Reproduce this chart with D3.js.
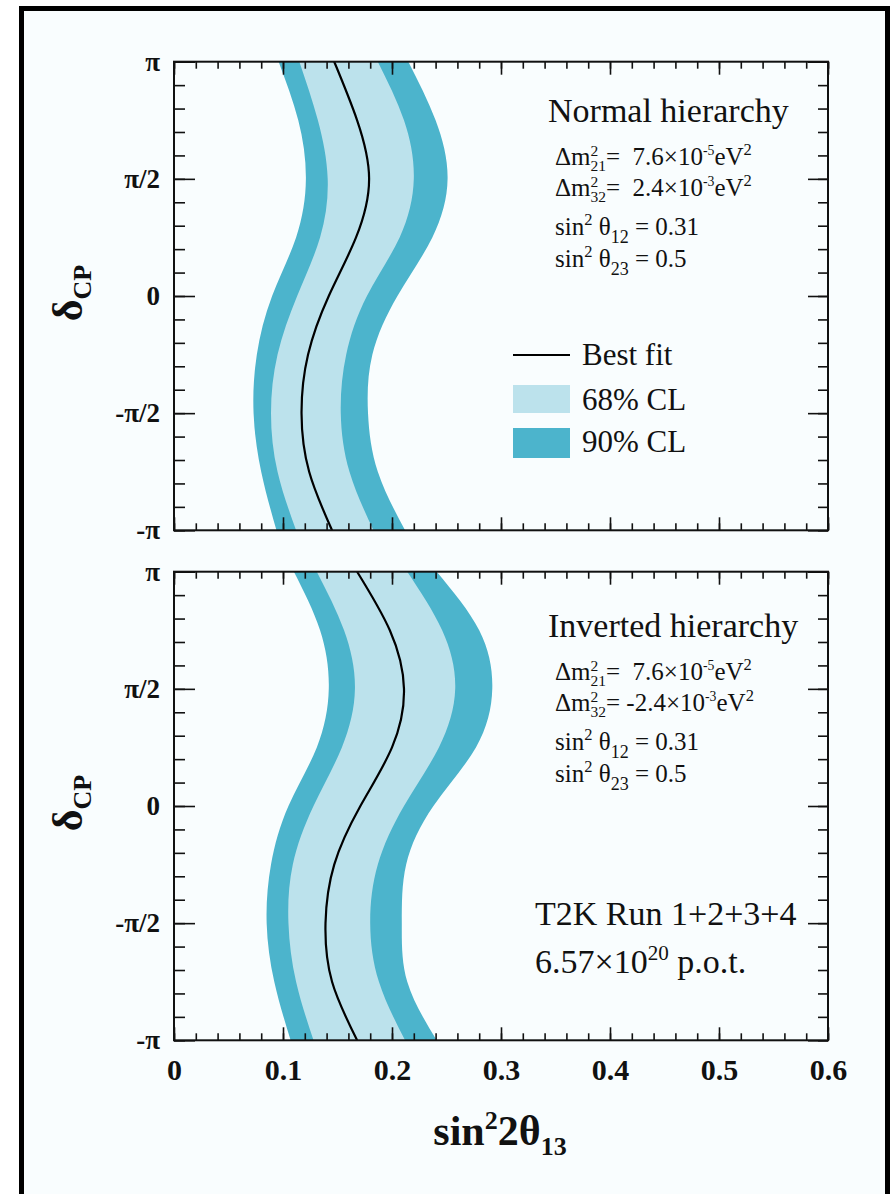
<!DOCTYPE html>
<html>
<head>
<meta charset="utf-8">
<script src="https://cdn.jsdelivr.net/npm/d3@7"></script>
<style>
  body { margin: 0; background: #fff; }
  text { font-family: "Liberation Serif", "DejaVu Serif", serif; fill: #111; white-space: pre; }
  .tick text { font-weight: bold; }
</style>
</head>
<body>
<svg id="chart" width="892" height="1194"></svg>
<script>
  // delta_CP grid in units of pi, from +pi down to -pi
  var deltaFrac = [1, 0.75, 0.5, 0.25, 0, -0.25, -0.5, -0.75, -1];

  // normal hierarchy: sin^2 2theta13 contour edges
  var nh90Lo = [0.096, 0.114, 0.121, 0.112, 0.090, 0.076, 0.073, 0.080, 0.094];
  var nh68Lo = [0.115, 0.132, 0.141, 0.134, 0.113, 0.095, 0.089, 0.095, 0.112];
  var nhBest = [0.147, 0.168, 0.179, 0.167, 0.142, 0.123, 0.117, 0.124, 0.145];
  var nh68Hi = [0.187, 0.211, 0.220, 0.207, 0.177, 0.158, 0.153, 0.161, 0.183];
  var nh90Hi = [0.215, 0.240, 0.251, 0.237, 0.205, 0.182, 0.178, 0.187, 0.212];

  // inverted hierarchy
  var ih90Lo = [0.110, 0.134, 0.142, 0.131, 0.105, 0.089, 0.085, 0.092, 0.107];
  var ih68Lo = [0.131, 0.156, 0.166, 0.154, 0.128, 0.109, 0.105, 0.112, 0.128];
  var ihBest = [0.168, 0.198, 0.211, 0.200, 0.171, 0.147, 0.139, 0.145, 0.168];
  var ih68Hi = [0.214, 0.246, 0.258, 0.243, 0.211, 0.187, 0.180, 0.188, 0.212];
  var ih90Hi = [0.241, 0.280, 0.292, 0.277, 0.238, 0.213, 0.209, 0.214, 0.241];

  var xTicks = [0, 0.1, 0.2, 0.3, 0.4, 0.5, 0.6];
  var xTickLabels = ['0', '0.1', '0.2', '0.3', '0.4', '0.5', '0.6'];
  var yTickFrac = [-1, -0.5, 0, 0.5, 1];
  var yTickLabels = ['-\u03c0', '-\u03c0/2', '0', '\u03c0/2', '\u03c0'];

  var dark = '#4cb4cc';
  var light = '#bce2ec';

  var svg = d3.select('#chart');

  // outer frame
  svg.append('rect')
    .attr('x', 21.5).attr('y', 8.5)
    .attr('width', 866).attr('height', 1200)
    .attr('fill', '#f9fdfe')
    .attr('stroke', '#000')
    .attr('stroke-width', 5);

  var x = d3.scaleLinear().domain([0, 0.6]).range([174, 828]);

  function rich(sel, px, py, size, parts) {
    var t = sel.append('text').attr('x', px).attr('y', py).attr('font-size', size);
    var cur = 0;
    parts.forEach(function(p) {
      var off = p[1] || 0, sc = p[2] || 1, dx = p[3] || 0;
      t.append('tspan')
        .attr('dy', off - cur)
        .attr('dx', dx)
        .attr('font-size', size * sc)
        .text(p[0]);
      cur = off;
    });
    return t;
  }

  function drawPanel(panel, idx) {
    var y = d3.scaleLinear().domain([-Math.PI, Math.PI]).range([panel.bottom, panel.top]);
    var g = svg.append('g');

    var clipId = 'clip-' + idx;
    g.append('clipPath').attr('id', clipId)
      .append('rect')
      .attr('x', x(0)).attr('y', panel.top)
      .attr('width', x(0.6) - x(0)).attr('height', panel.bottom - panel.top);

    var rows = deltaFrac.map(function(f, i) {
      return {
        d: f * Math.PI,
        o0: panel.o90[i], o1: panel.o90hi[i],
        i0: panel.i68[i], i1: panel.i68hi[i],
        best: panel.best[i]
      };
    });

    var curve = d3.curveNatural;
    var plot = g.append('g').attr('clip-path', 'url(#' + clipId + ')');

    plot.append('path')
      .datum(rows)
      .attr('fill', dark)
      .attr('d', d3.area().curve(curve)
        .y(function(d) { return y(d.d); })
        .x0(function(d) { return x(d.o0); })
        .x1(function(d) { return x(d.o1); }));

    plot.append('path')
      .datum(rows)
      .attr('fill', light)
      .attr('d', d3.area().curve(curve)
        .y(function(d) { return y(d.d); })
        .x0(function(d) { return x(d.i0); })
        .x1(function(d) { return x(d.i1); }));

    plot.append('path')
      .datum(rows)
      .attr('fill', 'none')
      .attr('stroke', '#000')
      .attr('stroke-width', 2.2)
      .attr('d', d3.line().curve(curve)
        .y(function(d) { return y(d.d); })
        .x(function(d) { return x(d.best); }));

    // axes
    var xMinor = d3.range(0, 31).map(function(k) { return k * 0.02; });
    var yMinor = d3.range(-10, 11).map(function(k) { return k * Math.PI / 10; });
    var yMajor = yTickFrac.map(function(f) { return f * Math.PI; });

    function addAxis(axis, tx, ty) {
      var a = g.append('g')
        .attr('transform', 'translate(' + tx + ',' + ty + ')')
        .call(axis);
      a.select('.domain').remove();
      a.selectAll('line').attr('stroke', '#111').attr('stroke-width', 1.6);
      return a;
    }

    addAxis(d3.axisBottom(x).tickValues(xMinor).tickSize(-7).tickFormat(''), 0, panel.bottom);
    addAxis(d3.axisTop(x).tickValues(xMinor).tickSize(-7).tickFormat(''), 0, panel.top);
    addAxis(d3.axisTop(x).tickValues(xTicks).tickSize(-13).tickFormat(''), 0, panel.top);

    var xa = addAxis(d3.axisBottom(x).tickValues(xTicks).tickSize(-13).tickPadding(18)
      .tickFormat(function(d, i) { return panel.xLabels ? xTickLabels[i] : ''; }), 0, panel.bottom);
    xa.selectAll('text').attr('font-size', 30).attr('fill', '#111')
      .style('font-family', '"Liberation Serif", serif');

    addAxis(d3.axisLeft(y).tickValues(yMinor).tickSize(-11).tickFormat(''), x(0), 0);
    addAxis(d3.axisRight(y).tickValues(yMinor).tickSize(-10).tickFormat(''), x(0.6), 0);
    addAxis(d3.axisRight(y).tickValues(yMajor).tickSize(-20).tickFormat(''), x(0.6), 0);
    var ya = addAxis(d3.axisLeft(y).tickValues(yMajor).tickSize(-21).tickPadding(14)
      .tickFormat(function(d, i) { return yTickLabels[i]; }), x(0), 0);
    ya.selectAll('text').attr('font-size', 27).attr('fill', '#111')
      .style('font-family', '"Liberation Serif", serif');

    // frame
    g.append('rect')
      .attr('x', x(0)).attr('y', panel.top)
      .attr('width', x(0.6) - x(0)).attr('height', panel.bottom - panel.top)
      .attr('fill', 'none').attr('stroke', '#111').attr('stroke-width', 2);

    // y label
    var yl = g.append('g')
      .attr('transform', 'translate(82,' + ((panel.top + panel.bottom) / 2 - 3) + ') rotate(-90)');
    rich(yl, 0, 0, 42, [['\u03b4'], ['CP', 9, 0.62]])
      .attr('text-anchor', 'middle').attr('font-weight', 'bold');

    // annotations
    var b = panel.textTop;
    g.append('text').attr('x', 548).attr('y', b).attr('font-size', 34).text(panel.title);
    rich(g, 555, b + 43, 25, [['\u0394m'], ['2', -9, 0.62], ['21', 6, 0.62, -7.8],
      ['=  7.6\u00d710', 0], ['-5', -10, 0.55], ['eV', 0], ['2', -10, 0.66]]);
    rich(g, 555, b + 74, 25, [['\u0394m'], ['2', -9, 0.62], ['32', 6, 0.62, -7.8],
      [panel.dm32, 0], ['-3', -10, 0.55], ['eV', 0], ['2', -10, 0.66]]);
    rich(g, 555, b + 113, 25, [['sin'], ['2', -10, 0.66], [' \u03b8', 0], ['12', 8, 0.72], [' = 0.31', 0]]);
    rich(g, 555, b + 145, 25, [['sin'], ['2', -10, 0.66], [' \u03b8', 0], ['23', 8, 0.72], [' = 0.5', 0]]);
  }

  var panels = [
    { top: 61.7, bottom: 530.3, o90: nh90Lo, o90hi: nh90Hi, i68: nh68Lo, i68hi: nh68Hi, best: nhBest,
      title: 'Normal hierarchy', dm32: '=  2.4\u00d710', textTop: 122, xLabels: false },
    { top: 571.7, bottom: 1040.3, o90: ih90Lo, o90hi: ih90Hi, i68: ih68Lo, i68hi: ih68Hi, best: ihBest,
      title: 'Inverted hierarchy', dm32: '= -2.4\u00d710', textTop: 637, xLabels: true }
  ];
  panels.forEach(drawPanel);

  // legend (top panel)
  var leg = svg.append('g');
  leg.append('line').attr('x1', 513).attr('x2', 570).attr('y1', 355).attr('y2', 355)
    .attr('stroke', '#000').attr('stroke-width', 2.2);
  leg.append('text').attr('x', 582).attr('y', 365).attr('font-size', 31).text('Best fit');
  leg.append('rect').attr('x', 513).attr('y', 385).attr('width', 57).attr('height', 28).attr('fill', light);
  leg.append('text').attr('x', 582).attr('y', 410).attr('font-size', 31).text('68% CL');
  leg.append('rect').attr('x', 513).attr('y', 428).attr('width', 57).attr('height', 30).attr('fill', dark);
  leg.append('text').attr('x', 582).attr('y', 452).attr('font-size', 31).text('90% CL');

  // run info (bottom panel)
  svg.append('text').attr('x', 535).attr('y', 925).attr('font-size', 34).text('T2K Run 1+2+3+4');
  rich(svg, 535, 973, 34, [['6.57\u00d710'], ['20', -13, 0.62], [' p.o.t.', 0]]);

  // x label
  rich(svg, 500, 1145, 42, [['sin'], ['2', -16, 0.62], ['2\u03b8', 0], ['13', 10, 0.62]])
    .attr('text-anchor', 'middle').attr('font-weight', 'bold');
</script>
</body>
</html>
